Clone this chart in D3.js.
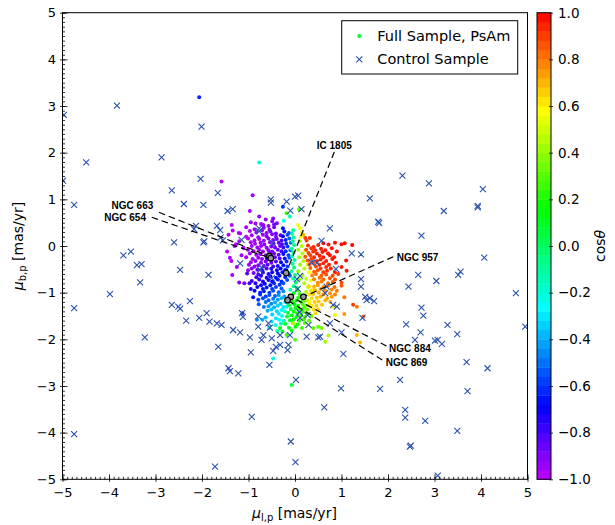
<!DOCTYPE html>
<html>
<head>
<meta charset="utf-8">
<script src="https://cdn.jsdelivr.net/npm/d3@7"></script>
<style>
  body { margin: 0; background: #fff; }
  svg { display: block; }
  text { font-family: "DejaVu Sans", sans-serif; }
</style>
</head>
<body>
<svg id="chart" width="615" height="525"></svg>
<script>
// ---- data -----------------------------------------------------------
// Full sample: [mu_l, mu_b, cos(theta)]
const fullSample = [
  // sparse outskirts
  [-1.58,1.38,-0.98],[-0.91,1.09,-0.95],[-0.97,0.75,-0.97],[-0.95,0.51,-0.96],[-0.77,0.63,-0.93],
  [-1.36,0.45,-0.99],[-1.34,0.33,-0.98],[-1.18,0.27,-0.97],[-0.68,0.45,-0.92],[-0.47,0.59,-0.90],
  [-0.39,0.49,-0.90],[-2.06,3.19,-0.62],[-0.77,1.79,-0.20],[-0.07,-2.98,0.05],[-0.47,-2.41,-0.22],
  [-1.20,0.10,-0.98],[-1.30,0.00,-0.98],[-1.15,-0.20,-0.96],[-1.40,-0.25,-0.98],[-1.25,-0.45,-0.95],[-0.85,0.48,-0.95],
  // violet core
  [-0.63,0.57,-0.93],[-0.49,0.53,-0.90],
  [-0.73,0.47,-0.94],[-0.57,0.43,-0.92],[-0.45,0.46,-0.88],
  [-1.05,0.40,-0.97],[-0.87,0.36,-0.96],[-0.67,0.39,-0.93],[-0.55,0.35,-0.91],[-0.45,0.40,-0.88],
  [-1.21,0.28,-0.98],[-0.97,0.32,-0.97],[-0.83,0.29,-0.95],[-0.71,0.33,-0.94],[-0.61,0.28,-0.92],[-0.53,0.31,-0.90],[-0.41,0.27,-0.87],
  [-1.43,0.24,-0.99],[-1.05,0.20,-0.97],[-0.93,0.23,-0.96],[-0.79,0.19,-0.95],[-0.69,0.24,-0.93],[-0.61,0.21,-0.92],[-0.49,0.25,-0.90],[-0.41,0.20,-0.87],[-0.31,0.23,-0.82],
  [-1.01,0.16,-0.97],[-0.87,0.12,-0.96],[-0.77,0.15,-0.95],[-0.67,0.11,-0.93],[-0.57,0.16,-0.91],[-0.47,0.13,-0.89],[-0.39,0.15,-0.86],[-0.29,0.12,-0.81],
  [-1.27,0.04,-0.98],[-0.95,0.08,-0.97],[-0.86,0.05,-0.95],[-0.74,0.07,-0.94],[-0.66,0.03,-0.92],[-0.54,0.08,-0.90],[-0.46,0.05,-0.88],[-0.35,0.07,-0.85],[-0.28,0.04,-0.80],
  [-1.11,-0.04,-0.97],[-0.93,0.00,-0.96],[-0.81,-0.03,-0.95],[-0.73,0.00,-0.93],[-0.61,-0.04,-0.91],[-0.51,-0.01,-0.89],[-0.43,-0.03,-0.87],[-0.32,0.00,-0.84],[-0.25,-0.03,-0.79],
  [-1.46,-0.12,-0.99],[-1.01,-0.08,-0.97],[-0.89,-0.11,-0.95],[-0.77,-0.08,-0.94],[-0.69,-0.12,-0.92],[-0.57,-0.09,-0.90],[-0.49,-0.12,-0.88],[-0.37,-0.08,-0.85],[-0.29,-0.11,-0.80],
  [-0.97,-0.16,-0.96],[-0.83,-0.19,-0.95],[-0.75,-0.17,-0.93],[-0.63,-0.20,-0.91],[-0.45,-0.16,-0.87],[-0.35,-0.19,-0.83],
  [-0.55,-0.14,-0.89],[-0.60,-0.29,-0.88],
  [-1.05,-0.24,-0.97],[-0.91,-0.28,-0.95],[-0.79,-0.25,-0.93],[-0.71,-0.28,-0.91],[-0.43,-0.24,-0.85],[-0.33,-0.27,-0.81],
  [-1.37,-0.32,-0.98],[-0.95,-0.35,-0.95],[-0.85,-0.32,-0.93],[-0.73,-0.36,-0.91],[-0.63,-0.33,-0.89],[-0.51,-0.36,-0.86],[-0.41,-0.33,-0.82],
  [-0.99,-0.40,-0.94],[-0.87,-0.44,-0.92],[-0.79,-0.41,-0.90],[-0.67,-0.43,-0.87],[-0.59,-0.40,-0.84],[-0.47,-0.44,-0.80],
  [-1.01,-0.52,-0.93],[-0.93,-0.48,-0.90],[-0.81,-0.51,-0.86],[-0.61,-0.48,-0.80],
  [-1.35,-0.62,-0.95],[-0.89,-0.58,-0.86],[-0.79,-0.61,-0.82],
  [-1.20,-0.78,-0.90],[-1.09,-0.80,-0.88],
  // blue wedge
  [-0.26,0.84,-0.60],[-0.26,0.38,-0.65],
  [-0.23,0.31,-0.66],[-0.13,0.28,-0.55],[-0.26,0.21,-0.68],[-0.16,0.24,-0.58],
  [-0.20,0.13,-0.64],[-0.12,0.16,-0.52],[-0.19,0.05,-0.62],[-0.09,0.07,-0.50],
  [-0.16,-0.01,-0.58],[-0.20,-0.11,-0.62],[-0.10,-0.09,-0.52],
  [-0.53,-0.19,-0.76],[-0.25,-0.17,-0.68],[-0.14,-0.20,-0.58],
  [-0.61,-0.25,-0.76],[-0.22,-0.27,-0.66],[-0.12,-0.25,-0.55],
  [-0.30,-0.35,-0.70],[-0.18,-0.33,-0.62],
  [-0.37,-0.43,-0.72],[-0.25,-0.41,-0.66],[-0.16,-0.44,-0.58],
  [-0.71,-0.52,-0.78],[-0.51,-0.49,-0.74],[-0.39,-0.52,-0.72],[-0.31,-0.48,-0.68],[-0.21,-0.51,-0.62],
  [-1.03,-0.59,-0.82],[-0.69,-0.57,-0.76],[-0.57,-0.60,-0.74],[-0.49,-0.56,-0.72],[-0.37,-0.59,-0.70],[-0.27,-0.56,-0.66],[-0.13,-0.60,-0.55],
  [-0.83,-0.67,-0.78],[-0.73,-0.64,-0.75],[-0.61,-0.68,-0.73],[-0.53,-0.65,-0.71],[-0.41,-0.68,-0.69],[-0.33,-0.64,-0.66],[-0.21,-0.67,-0.62],[-0.11,-0.64,-0.54],
  [-0.93,-0.75,-0.78],[-0.77,-0.72,-0.75],[-0.69,-0.76,-0.72],[-0.57,-0.73,-0.70],[-0.49,-0.76,-0.68],[-0.37,-0.72,-0.65],[-0.29,-0.76,-0.62],[-0.17,-0.73,-0.56],
  [-0.85,-0.80,-0.74],[-0.73,-0.84,-0.71],[-0.65,-0.81,-0.69],[-0.53,-0.84,-0.66],[-0.45,-0.80,-0.63],[-0.33,-0.83,-0.60],[-0.25,-0.80,-0.55],
  [-0.95,-0.92,-0.74],[-0.81,-0.88,-0.70],[-0.69,-0.92,-0.67],[-0.61,-0.89,-0.64],[-0.49,-0.92,-0.61],[-0.41,-0.88,-0.58],[-0.29,-0.91,-0.54],
  [-0.87,-0.96,-0.68],[-0.75,-1.00,-0.65],[-0.67,-0.97,-0.62],[-0.55,-1.00,-0.59],[-0.47,-0.96,-0.56],[-0.35,-0.99,-0.52],
  [-0.75,-1.04,-0.62],[-0.63,-1.08,-0.58],[-0.55,-1.05,-0.55],[-0.43,-1.07,-0.52],
  [-0.79,-1.15,-0.60],[-0.69,-1.12,-0.56],[-0.57,-1.16,-0.52],[-0.47,-1.13,-0.48],
  [-0.63,-1.20,-0.50],[-0.51,-1.24,-0.46],[-0.67,-1.31,-0.48],[-1.13,-1.44,-0.60],
  [-0.90,-1.10,-0.66],[-0.98,-0.80,-0.78],[-0.78,-1.25,-0.55],
  // light blue
  [-0.25,-0.97,-0.45],[-0.35,-1.05,-0.45],[-0.23,-1.08,-0.40],[-0.37,-1.15,-0.42],[-0.29,-1.12,-0.38],
  [-0.43,-1.21,-0.40],[-0.31,-1.24,-0.36],[-0.21,-1.20,-0.30],
  [-0.57,-1.29,-0.42],[-0.45,-1.32,-0.38],[-0.37,-1.28,-0.34],[-0.25,-1.31,-0.30],
  [-0.59,-1.39,-0.40],[-0.51,-1.36,-0.36],[-0.39,-1.40,-0.32],[-0.29,-1.37,-0.28],
  [-0.49,-1.47,-0.34],[-0.35,-1.45,-0.30],[-0.63,-1.53,-0.38],[-0.41,-1.55,-0.30],
  [-0.82,-1.58,-0.45],[-0.70,-1.58,-0.40],
  // cyan ridge and lower-left cyan
  [-0.11,0.63,-0.15],[-0.24,0.54,-0.25],[-0.04,0.34,-0.10],[-0.06,0.26,-0.10],[-0.03,0.18,-0.10],
  [-0.05,0.10,-0.08],[-0.02,0.02,-0.08],[-0.07,-0.06,-0.10],[-0.03,-0.14,-0.08],[-0.06,-0.22,-0.10],
  [-0.01,-0.30,-0.05],[-0.05,-0.38,-0.10],[-0.02,-0.46,-0.05],[-0.07,-0.54,-0.12],[0.00,-0.62,-0.05],
  [-0.04,-0.70,-0.10],[0.02,-0.78,-0.02],[-0.03,-0.86,-0.08],[-0.10,-0.94,-0.15],[0.04,-0.90,0.05],
  [-0.16,-1.22,-0.20],[-0.18,-1.30,-0.20],[-0.22,-1.40,-0.22],[-0.28,-1.50,-0.25],[-0.34,-1.58,-0.25],
  [-0.24,-1.60,-0.15],[-0.50,-1.62,-0.30],[-0.42,-1.70,-0.20],[-0.56,-1.76,-0.25],[-0.30,-1.66,-0.12],
  [-0.38,-1.82,-0.10],
  // green
  [-0.18,0.70,0.25],[0.09,0.79,0.28],
  [0.05,-0.95,0.20],[-0.03,-1.01,0.12],[0.10,-1.03,0.25],[0.07,-1.11,0.22],[0.15,-1.09,0.28],
  [-0.05,-1.19,0.10],[0.03,-1.17,0.18],[0.13,-1.20,0.25],[0.21,-1.17,0.32],
  [-0.13,-1.27,0.05],[-0.01,-1.25,0.14],[0.07,-1.28,0.22],[0.17,-1.25,0.28],[0.23,-1.28,0.34],
  [-0.09,-1.35,0.08],[0.01,-1.33,0.16],[0.09,-1.36,0.23],[0.19,-1.33,0.28],[0.27,-1.36,0.34],
  [-0.15,-1.43,0.06],[-0.03,-1.41,0.14],[0.05,-1.44,0.20],[0.17,-1.41,0.26],[0.25,-1.44,0.32],
  [-0.17,-1.51,0.05],[-0.07,-1.49,0.12],[0.03,-1.52,0.18],[0.13,-1.49,0.25],[0.21,-1.52,0.30],
  [-0.11,-1.59,0.10],[-0.03,-1.57,0.16],[0.09,-1.60,0.22],[0.19,-1.57,0.28],
  [-0.21,-1.67,0.08],[-0.05,-1.65,0.15],[0.05,-1.68,0.20],[0.21,-1.65,0.28],
  [-0.13,-1.75,0.12],[0.01,-1.73,0.18],[0.15,-1.76,0.24],[-0.27,-1.83,0.10],[-0.07,-1.81,0.16],
  [-0.32,-1.76,0.15],[-0.18,-1.91,0.25],[0.00,-2.01,0.30],[0.39,-1.76,0.30],[0.50,-1.73,0.32],
  [0.57,-1.76,0.35],[0.65,-2.05,0.42],[0.72,-1.92,0.45],[-0.04,-1.66,0.45],[0.30,-1.60,0.30],[0.36,-1.50,0.35],
  // yellow-green ridge
  [0.10,0.10,0.42],[0.14,0.00,0.44],[0.07,-0.08,0.40],[0.16,-0.16,0.45],[0.09,-0.24,0.40],
  [0.18,-0.32,0.46],[0.11,-0.40,0.40],[0.20,-0.48,0.46],[0.07,-0.54,0.38],[0.16,-0.62,0.44],
  [0.24,-0.70,0.48],[0.09,-0.72,0.38],[0.20,-0.80,0.44],[0.28,-0.88,0.50],[0.24,-0.98,0.46],
  [0.20,-1.06,0.42],[0.26,-1.16,0.45],[0.30,-1.26,0.48],
  // yellow
  [0.07,0.45,0.55],[0.11,0.38,0.56],[0.15,0.30,0.58],[0.12,0.20,0.55],[0.22,-0.10,0.56],
  [0.26,-0.40,0.56],[0.30,-0.56,0.58],[0.34,-0.74,0.58],[0.38,-0.94,0.58],[0.82,-1.30,0.55],[0.86,-1.48,0.55],
  // orange-yellow
  [0.18,0.24,0.70],[0.30,-0.86,0.64],[0.34,-0.96,0.64],[0.30,-1.04,0.62],[0.36,-1.12,0.64],
  [0.32,-1.20,0.60],[0.42,-1.20,0.66],[0.36,-1.28,0.62],[0.46,-1.28,0.66],[0.58,-1.26,0.68],
  [0.40,-1.36,0.64],[0.50,-1.36,0.66],[0.44,-1.44,0.64],
  // red
  [0.22,0.17,0.90],[0.32,0.17,0.92],[0.25,0.12,0.90],
  [0.61,0.06,0.97],[0.72,0.03,0.97],[0.86,0.07,0.98],[1.00,0.04,0.98],[1.07,0.06,0.98],[1.23,0.02,0.99],
  [0.28,0.01,0.92],[0.40,-0.02,0.94],[0.50,0.02,0.95],
  [0.24,-0.08,0.88],[0.35,-0.05,0.92],[0.43,-0.09,0.94],[0.56,-0.06,0.96],[0.65,-0.09,0.97],[0.79,-0.05,0.97],
  [0.29,-0.15,0.90],[0.39,-0.12,0.93],[0.47,-0.16,0.95],[0.59,-0.13,0.96],[0.71,-0.16,0.97],[0.90,-0.12,0.98],
  [0.22,-0.23,0.86],[0.33,-0.20,0.90],[0.41,-0.24,0.93],[0.53,-0.21,0.95],[0.61,-0.24,0.96],[0.75,-0.20,0.97],[0.84,-0.24,0.97],
  [0.27,-0.31,0.86],[0.35,-0.28,0.90],[0.47,-0.32,0.93],[0.55,-0.29,0.95],[0.67,-0.32,0.96],[0.80,-0.28,0.97],[1.10,-0.31,0.98],
  [0.31,-0.39,0.86],[0.39,-0.36,0.90],[0.53,-0.40,0.93],[0.61,-0.37,0.94],[0.73,-0.40,0.95],[0.88,-0.36,0.96],
  [0.33,-0.47,0.84],[0.45,-0.44,0.88],[0.55,-0.48,0.91],[0.67,-0.45,0.93],[0.77,-0.48,0.94],[1.00,-0.45,0.96],
  [0.41,-0.55,0.84],[0.49,-0.52,0.87],[0.61,-0.56,0.90],[0.69,-0.53,0.92],[0.86,-0.56,0.94],[1.11,-0.53,0.96],
  // red-orange
  [0.37,-0.63,0.78],[0.45,-0.60,0.82],[0.57,-0.64,0.85],[0.67,-0.61,0.87],[0.81,-0.64,0.89],[0.93,-0.60,0.91],
  [0.41,-0.71,0.78],[0.53,-0.68,0.81],[0.61,-0.72,0.84],[0.75,-0.69,0.86],[0.86,-0.72,0.88],
  [0.49,-0.79,0.77],[0.57,-0.76,0.80],[0.71,-0.80,0.83],[0.81,-0.77,0.85],[1.00,-0.79,0.88],
  // orange
  [0.41,-0.87,0.70],[0.49,-0.84,0.74],[0.61,-0.88,0.77],[0.71,-0.85,0.80],[0.85,-0.88,0.82],[1.00,-0.85,0.85],
  [0.43,-0.95,0.70],[0.55,-0.92,0.73],[0.65,-0.96,0.76],[0.79,-0.93,0.78],[0.90,-0.96,0.80],
  [0.39,-1.03,0.68],[0.51,-1.00,0.71],[0.61,-1.04,0.74],[0.75,-1.01,0.76],[0.86,-1.04,0.78],
  [0.47,-1.11,0.68],[0.55,-1.08,0.71],[0.69,-1.12,0.73],[0.79,-1.09,0.75],[1.06,-1.10,0.80],
  [0.51,-1.19,0.68],[0.65,-1.16,0.70],[0.76,-1.20,0.72],
  [1.25,-1.26,0.90],[1.33,-1.30,0.80],[1.06,-1.46,0.75],[1.47,-1.51,0.82],[1.33,-1.91,0.70],[1.40,-2.07,0.70]
];

// Control sample: [mu_l, mu_b]
const controlSample = [
  [-4.97,2.81],[-3.83,3.01],[-2.01,2.56],[-4.49,1.79],[-2.87,1.90],[-4.99,1.40],[-2.03,1.44],
  [-2.65,1.19],[-4.75,0.88],[-2.39,0.90],[-1.97,0.88],[-1.66,1.14],[-1.45,0.75],[-1.34,0.79],
  [-0.52,1.00],[-0.52,0.93],[-0.18,0.95],[-0.10,0.76],[0.00,1.06],[0.07,1.08],[0.14,0.79],
  [-1.68,0.43],[-1.61,0.34],[-2.13,0.43],[-2.17,0.36],[-0.77,0.38],[-0.77,0.32],
  [-2.60,0.08],[-1.97,0.08],[-1.95,0.10],[-1.60,0.18],[-1.55,0.12],[-1.15,0.13],[-0.48,0.06],
  [-3.69,-0.20],[-3.53,-0.12],[-3.40,-0.41],[-3.30,-0.39],[-2.47,-0.51],[-1.86,-0.62],[-1.18,-0.37],
  [-3.33,-0.78],[-3.98,-1.03],[-4.75,-1.33],[-2.65,-1.26],[-2.51,-1.30],[-2.47,-1.34],[-2.26,-1.18],
  [-2.34,-1.60],[-2.06,-1.54],[-1.90,-1.44],[-1.84,-1.62],[-1.68,-1.66],[-1.58,-1.69],[-3.23,-1.96],
  [-1.33,-1.80],[-1.18,-1.85],[-1.14,-1.44],[-1.12,-1.52],[-1.65,-2.16],[-0.97,-1.96],[-0.95,-2.28],
  [-1.43,-2.62],[-1.40,-2.68],[-1.22,-2.73],[-0.55,-2.55],[-0.79,-1.51],[-0.79,-1.73],
  [-0.57,-1.66],[-0.54,-1.75],[-0.68,-1.91],[-0.72,-2.01],[-0.50,-1.98],[-0.32,-1.91],
  [-0.47,-2.25],[-0.41,-2.16],[-0.32,-2.12],[-0.14,-2.12],[-0.16,-2.23],[-0.11,-1.91],
  [-0.75,-0.51],[-0.72,-0.46],[-0.50,-0.69],[0.04,-0.71],
  [-0.93,-3.66],[-4.75,-4.03],[-1.72,-4.73],[-0.09,-4.19],[0.01,-4.63],[0.02,-2.87],
  [2.31,1.51],[2.88,1.34],[4.04,1.22],[1.61,1.02],[1.79,0.52],[1.81,0.49],[3.20,0.75],
  [3.93,0.86],[3.93,0.83],[2.72,0.22],[0.75,0.38],[0.57,0.11],
  [1.22,-0.16],[1.42,-0.18],[4.07,-0.25],[2.65,-0.62],[3.51,-0.62],[3.56,-0.55],[3.04,-0.75],
  [2.44,-0.87],[1.42,-0.71],[1.42,-0.87],[4.75,-1.01],[4.95,-1.73],[1.51,-1.09],[1.54,-1.16],
  [1.70,-1.18],[1.61,-1.12],[2.72,-1.32],[2.76,-1.49],[1.45,-1.54],[2.39,-1.68],[3.28,-1.69],
  [3.49,-1.89],[2.70,-1.85],[2.58,-2.01],[3.01,-2.03],[3.07,-2.01],[3.16,-2.10],[1.00,-1.85],
  [1.04,-2.31],[3.69,-2.49],[4.14,-2.62],[2.26,-2.87],[0.99,-3.05],[1.83,-3.06],[3.71,-3.11],
  [0.63,-3.46],[2.37,-3.51],[2.37,-3.68],[2.80,-3.75],[3.49,-3.96],[2.47,-4.30],[2.49,-4.28],[3.07,-4.92],
  [0.25,-1.94],[0.50,-1.96],[0.54,-1.94],[0.29,-1.69],[0.68,-0.87],[0.88,-0.49],[0.35,-0.35],
  [0.47,-0.36],[0.11,-0.64],[0.06,-0.92],[0.10,-1.42],[0.11,-1.54],[0.27,-1.48],[0.75,-1.66],
  [0.82,-1.26],[0.65,-1.01],[0.90,-1.30]
];

// Open clusters: mean proper motions and where their labels sit (data units)
const clusterNames = ["NGC 663", "NGC 654", "IC 1805", "NGC 957", "NGC 884", "NGC 869"];
const clusterMuL   = [-0.55, -0.52, -0.19, 0.18, -0.09, -0.16];
const clusterMuB   = [-0.22, -0.26, -0.58, -1.09, -1.09, -1.16];
const labelMuL     = [-2.925, -3.082, 0.845, 2.114, 1.968, 1.877];
const labelMuB     = [0.722, 0.615, 2.015, -0.229, -2.143, -2.443];

const axisTicks = [-5, -4, -3, -2, -1, 0, 1, 2, 3, 4, 5];
const minorTicks = d3.range(-50, 51).map(i => i / 10);
const colorbarTicks = [-1.0, -0.8, -0.6, -0.4, -0.2, 0.0, 0.2, 0.4, 0.6, 0.8, 1.0];
const colorbarLevels = 50;

// ---- layout -----------------------------------------------------------
const plot = { left: 62.5, right: 527.5, top: 12.7, bottom: 479.3 };
const cbar = { left: 537, right: 551 };
const crossColour = "#2a52ae";

const svg = d3.select("#chart");
svg.append("rect").attr("width", 615).attr("height", 525).attr("fill", "#fff");

const x = d3.scaleLinear().domain([-5, 5]).range([plot.left, plot.right]);
const y = d3.scaleLinear().domain([-5, 5]).range([plot.bottom, plot.top]);
const cy = d3.scaleLinear().domain([-1, 1]).range([plot.bottom, plot.top]);

// rainbow running from red (cos = 1) through green and blue to violet (cos = -1)
const colour = c => d3.hsl((1 - c) / 2 * 285, 1, 0.5).formatHex();

svg.append("clipPath").attr("id", "plotClip")
  .append("rect")
  .attr("x", plot.left).attr("y", plot.top)
  .attr("width", plot.right - plot.left).attr("height", plot.bottom - plot.top);

const marks = svg.append("g").attr("clip-path", "url(#plotClip)");

// full sample dots
marks.append("g").selectAll("circle").data(fullSample).join("circle")
  .attr("cx", d => x(d[0])).attr("cy", d => y(d[1]))
  .attr("r", 2.0)
  .attr("fill", d => colour(d[2]));

// control sample crosses
const crossPath = "M-3,-3L3,3M-3,3L3,-3";
marks.append("g").selectAll("path").data(controlSample).join("path")
  .attr("transform", d => `translate(${x(d[0])},${y(d[1])})`)
  .attr("d", crossPath)
  .attr("stroke", crossColour).attr("stroke-width", 1.1).attr("fill", "none");

// cluster annotations
const clusters = clusterNames.map((name, i) => ({
  name, muL: clusterMuL[i], muB: clusterMuB[i], lx: labelMuL[i], ly: labelMuB[i]
}));
const labelStyle = {
  "NGC 663": { anchor: "end",    dx: -5.7, dy: -3.0 },
  "NGC 654": { anchor: "end",    dx: -5.7, dy: 3.4 },
  "IC 1805": { anchor: "middle", dx: 0,    dy: -3.0 },
  "NGC 957": { anchor: "start",  dx: 3.4,  dy: 4.0 },
  "NGC 884": { anchor: "start",  dx: 2.6,  dy: 6.3 },
  "NGC 869": { anchor: "start",  dx: 3.4,  dy: 5.7 }
};

svg.append("g").selectAll("line").data(clusters).join("line")
  .attr("x1", d => x(d.lx)).attr("y1", d => y(d.ly))
  .attr("x2", d => x(d.muL)).attr("y2", d => y(d.muB))
  .attr("stroke", "#000").attr("stroke-width", 1.2)
  .attr("stroke-dasharray", "6.5,4");

svg.append("g").selectAll("circle").data(clusters).join("circle")
  .attr("cx", d => x(d.muL)).attr("cy", d => y(d.muB))
  .attr("r", 2.8)
  .attr("fill", "#9a9a9a").attr("stroke", "#000").attr("stroke-width", 1.2);

svg.append("g").selectAll("text").data(clusters).join("text")
  .attr("x", d => x(d.lx) + labelStyle[d.name].dx)
  .attr("y", d => y(d.ly) + labelStyle[d.name].dy)
  .attr("text-anchor", d => labelStyle[d.name].anchor)
  .style("font-family", "'Liberation Sans', Arial, sans-serif")
  .attr("font-weight", "bold").attr("font-size", 10)
  .text(d => d.name);

// ---- axes -----------------------------------------------------------
svg.append("rect")
  .attr("x", plot.left).attr("y", plot.top)
  .attr("width", plot.right - plot.left).attr("height", plot.bottom - plot.top)
  .attr("fill", "none").attr("stroke", "#000").attr("stroke-width", 1);

function styleAxis(g) {
  g.select(".domain").remove();
  g.selectAll(".tick line").attr("stroke", "#000").attr("stroke-width", 0.8);
  g.selectAll(".tick text").attr("fill", "#000").attr("font-size", 13)
    .style("font-family", "'DejaVu Sans', sans-serif");
}

const fmt = d3.format("d");
const bottomG = svg.append("g").attr("transform", `translate(0,${plot.bottom})`);
bottomG.append("g").call(d3.axisBottom(x).tickValues(minorTicks).tickSizeInner(-2.5).tickSizeOuter(0).tickFormat("")).call(styleAxis);
bottomG.append("g").call(d3.axisBottom(x).tickValues(axisTicks).tickSizeInner(2.5).tickSizeOuter(0).tickFormat("")).call(styleAxis);
bottomG.append("g").call(d3.axisBottom(x).tickValues(axisTicks).tickSizeInner(-5).tickSizeOuter(0).tickPadding(8).tickFormat(fmt)).call(styleAxis);

const leftG = svg.append("g").attr("transform", `translate(${plot.left},0)`);
leftG.append("g").call(d3.axisLeft(y).tickValues(minorTicks).tickSizeInner(-2.5).tickSizeOuter(0).tickFormat("")).call(styleAxis);
leftG.append("g").call(d3.axisLeft(y).tickValues(axisTicks).tickSizeInner(2.5).tickSizeOuter(0).tickFormat("")).call(styleAxis);
leftG.append("g").call(d3.axisLeft(y).tickValues(axisTicks).tickSizeInner(-5).tickSizeOuter(0).tickPadding(6.5).tickFormat(fmt)).call(styleAxis);

// axis titles
const xTitle = svg.append("text").attr("x", 252).attr("y", 518).attr("font-size", 14).attr("fill", "#000");
xTitle.append("tspan").attr("font-style", "italic").text("μ");
xTitle.append("tspan").attr("font-size", 10).attr("dy", 3).text("l,p");
xTitle.append("tspan").attr("dy", -3).text(" [mas/yr]");

const yTitle = svg.append("text")
  .attr("transform", "translate(23,246) rotate(-90)")
  .attr("text-anchor", "middle").attr("font-size", 14).attr("fill", "#000");
yTitle.append("tspan").attr("font-style", "italic").text("μ");
yTitle.append("tspan").attr("font-size", 10).attr("dy", 3).text("b,p");
yTitle.append("tspan").attr("dy", -3).text(" [mas/yr]");

// ---- legend -----------------------------------------------------------
const legend = svg.append("g");
legend.append("rect")
  .attr("x", 341.7).attr("y", 20.7).attr("width", 176).attr("height", 53.3)
  .attr("fill", "#fff").attr("stroke", "#000").attr("stroke-width", 1);
legend.append("circle").attr("cx", 359.3).attr("cy", 36).attr("r", 2.1).attr("fill", colour(0.05));
legend.append("path").attr("transform", "translate(359.3,59.3)").attr("d", crossPath)
  .attr("stroke", crossColour).attr("stroke-width", 1.1).attr("fill", "none");
legend.append("text").attr("x", 377.3).attr("y", 40.7).attr("font-size", 14.5).attr("fill", "#000")
  .text("Full Sample, PsAm");
legend.append("text").attr("x", 377.3).attr("y", 64.3).attr("font-size", 14.5).attr("fill", "#000")
  .text("Control Sample");

// ---- colour bar -----------------------------------------------------------
const step = 2 / colorbarLevels;
const levels = d3.range(colorbarLevels).map(i => -1 + i * step);
svg.append("g").selectAll("rect").data(levels).join("rect")
  .attr("x", cbar.left).attr("width", cbar.right - cbar.left)
  .attr("y", d => cy(d + step)).attr("height", d => cy(d) - cy(d + step) + 0.4)
  .attr("fill", d => colour(d + step / 2));
svg.append("rect")
  .attr("x", cbar.left).attr("y", plot.top)
  .attr("width", cbar.right - cbar.left).attr("height", plot.bottom - plot.top)
  .attr("fill", "none").attr("stroke", "#000").attr("stroke-width", 1);

const cbFmt = d3.format(".1f");
const cbG = svg.append("g").attr("transform", `translate(${cbar.right},0)`);
cbG.append("g").call(d3.axisRight(cy).tickValues(colorbarTicks).tickSizeInner(-2).tickSizeOuter(0).tickFormat("")).call(styleAxis);
cbG.append("g").call(d3.axisRight(cy).tickValues(colorbarTicks).tickSizeInner(2).tickSizeOuter(0).tickPadding(5).tickFormat(cbFmt))
  .call(styleAxis)
  .call(g => g.selectAll(".tick text").attr("font-size", 13.5));

const cTitle = svg.append("text")
  .attr("transform", "translate(605,246) rotate(-90)")
  .attr("text-anchor", "middle").attr("font-size", 14).attr("fill", "#000");
cTitle.append("tspan").text("cos");
cTitle.append("tspan").attr("font-style", "italic").text("θ");
</script>
</body>
</html>
